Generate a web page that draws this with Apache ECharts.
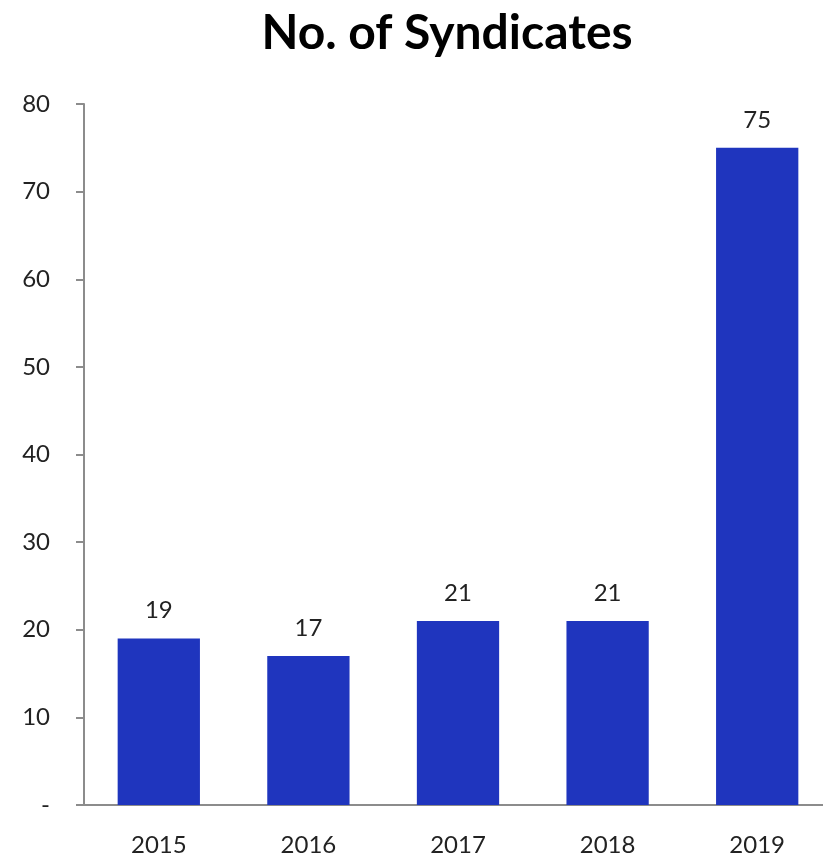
<!DOCTYPE html>
<html>
<head>
<meta charset="utf-8">
<script src="https://cdn.jsdelivr.net/npm/echarts@6/dist/echarts.min.js"></script>
<style>
  html, body { margin: 0; padding: 0; background: #ffffff; }
  #chart { width: 823px; height: 856px; }
</style>
</head>
<body>
<div id="chart"></div>
<script>
// Yearly syndicate counts
const years = ['2015', '2016', '2017', '2018', '2019'];
const syndicates = [19, 17, 21, 21, 75];
const yTicks = { min: 0, max: 80, interval: 10 };

const barColor = '#1f35be';
const axisColor = '#8c8c8c';
const textColor = '#222222';
const font = 'Lato, "Open Sans", sans-serif';

const chart = echarts.init(document.getElementById('chart'), null, { renderer: 'canvas' });

chart.setOption({
  backgroundColor: '#ffffff',
  animation: false,
  title: {
    text: 'No. of Syndicates',
    left: 442,
    top: 5,
    textAlign: 'center',
    textStyle: { fontFamily: font, fontWeight: 'bold', fontSize: 48, color: '#000000' }
  },
  // plot area runs slightly past the right edge of the canvas
  grid: {
    left: 84, width: 748, top: 104, bottom: 51,
    containLabel: false,
    outerBoundsMode: 'none'
  },
  xAxis: {
    type: 'category',
    data: years,
    axisLine: { show: true, lineStyle: { color: axisColor, width: 2 } },
    axisTick: { show: false },
    axisLabel: { margin: 28, fontFamily: font, fontSize: 24, color: textColor }
  },
  yAxis: {
    type: 'value',
    min: yTicks.min,
    max: yTicks.max,
    interval: yTicks.interval,
    splitLine: { show: false },
    axisLine: { show: true, lineStyle: { color: axisColor, width: 2 } },
    axisTick: { show: true, length: 8, lineStyle: { color: axisColor, width: 2 } },
    axisLabel: {
      margin: 34,
      fontFamily: font,
      fontSize: 24,
      color: textColor,
      formatter: v => (v === 0 ? '-' : String(v))
    }
  },
  series: [{
    type: 'bar',
    data: syndicates,
    barWidth: '55%',
    itemStyle: { color: barColor },
    label: {
      show: true,
      position: 'top',
      distance: 16,
      fontFamily: font,
      fontSize: 24,
      color: textColor
    }
  }]
});
</script>
</body>
</html>
